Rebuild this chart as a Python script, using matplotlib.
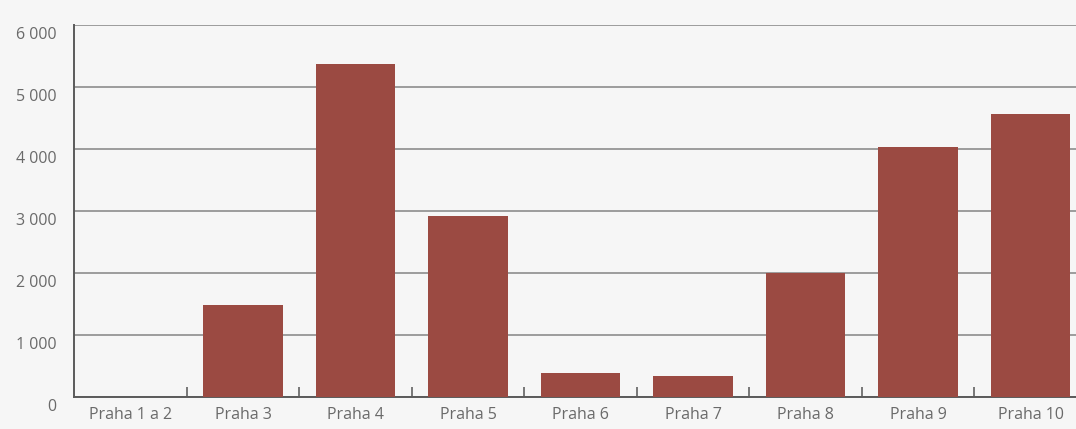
import matplotlib.pyplot as plt
from matplotlib.ticker import FuncFormatter
from matplotlib.transforms import ScaledTranslation

districts = ['Praha 1 a 2', 'Praha 3', 'Praha 4', 'Praha 5', 'Praha 6',
             'Praha 7', 'Praha 8', 'Praha 9', 'Praha 10']
values = [0, 1480, 5370, 2920, 380, 330, 2000, 4030, 4560]
y_ticks = [0, 1000, 2000, 3000, 4000, 5000, 6000]

plt.rcParams['font.family'] = ['Open Sans', 'DejaVu Sans']

bar_color = '#9b4a42'
grid_color = '#959595'
text_color = '#6a6a6a'

fig = plt.figure(figsize=(10.76, 4.29), dpi=100, facecolor='#f6f6f6')
ax = fig.add_axes([0.069, 0.075, 0.941, 0.867])
ax.set_facecolor('#f6f6f6')

x = range(len(districts))
ax.bar(x, values, width=0.71, color=bar_color, zorder=3)

ax.set_xlim(-0.5, len(districts) - 0.5)
ax.set_ylim(0, 6000)
ax.set_yticks(y_ticks)
ax.yaxis.set_major_formatter(FuncFormatter(lambda v, p: f'{int(v):,}'.replace(',', ' ')))
ax.yaxis.grid(True, color=grid_color, linewidth=1.3, zorder=1)
ax.tick_params(axis='y', length=0, pad=13, labelsize=11.5, labelcolor=text_color)

# value labels hang a little below their grid lines
shift = ScaledTranslation(0, -0.08, fig.dpi_scale_trans)
for lbl in ax.get_yticklabels():
    lbl.set_transform(lbl.get_transform() + shift)

# category labels sit under the bars, small tick marks go between them
ax.set_xticks(list(x))
ax.set_xticklabels(districts)
ax.tick_params(axis='x', which='major', length=0, pad=7, labelsize=11.5,
               labelcolor=text_color)
ax.set_xticks([i + 0.5 for i in range(len(districts) - 1)], minor=True)
ax.tick_params(axis='x', which='minor', direction='in', length=7, width=1.1,
               color='#555555')

for side in ['top', 'right']:
    ax.spines[side].set_visible(False)
for side in ['left', 'bottom']:
    ax.spines[side].set_color('#5a5a5a')
    ax.spines[side].set_linewidth(1.4)

fig.savefig('out.png', dpi=100, facecolor=fig.get_facecolor())
